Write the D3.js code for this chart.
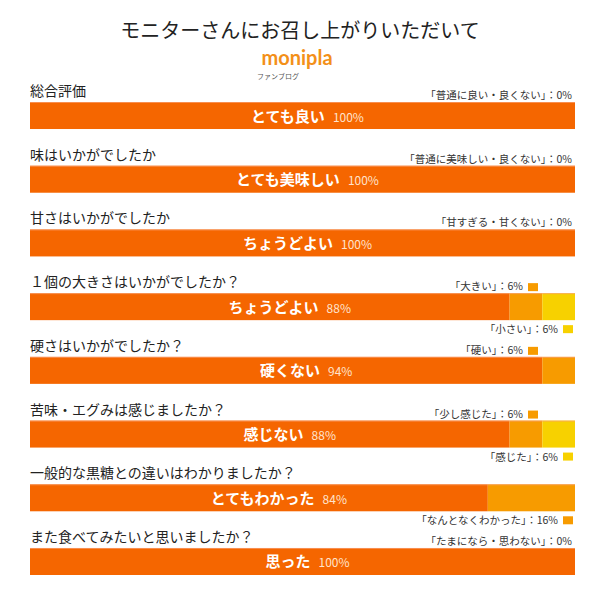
<!DOCTYPE html>
<html><head><meta charset="utf-8">
<script src="https://cdn.jsdelivr.net/npm/d3@7"></script>
<style>body{margin:0;background:#fff}svg{display:block;font-family:"Noto Sans CJK JP",sans-serif}</style>
</head><body><div id="chart"></div>
<script>
const questions = ["総合評価","味はいかがでしたか","甘さはいかがでしたか","１個の大きさはいかがでしたか？","硬さはいかがでしたか？","苦味・エグみは感じましたか？","一般的な黒糖との違いはわかりましたか？","また食べてみたいと思いましたか？"];
const mainLabels = ["とても良い","とても美味しい","ちょうどよい","ちょうどよい","硬くない","感じない","とてもわかった","思った"];
const mainValues = [100,100,100,88,94,88,84,100];
const secondValues = [0,0,0,6,6,6,16,0];
const thirdValues = [0,0,0,6,0,6,0,0];
const upperLabels = ["普通に良い・良くない","普通に美味しい・良くない","甘すぎる・甘くない","大きい","硬い","少し感じた","","たまになら・思わない"];
const upperValues = [0,0,0,6,6,6,null,0];
const upperSeries = [null,null,null,1,1,1,null,null];
const lowerLabels = ["","","","小さい","","感じた","なんとなくわかった",""];
const lowerValues = [null,null,null,6,null,6,16,null];
const lowerSeries = [null,null,null,2,null,2,1,null];
const colors = ["#F56600","#F79B00","#F7D100"];

const W=600,H=600;
const svg=d3.select("#chart").append("svg").attr("width",W).attr("height",H);

svg.append("text").attr("x",300).attr("y",38).attr("text-anchor","middle")
  .attr("font-size",20).attr("fill","#222").text("モニターさんにお召し上がりいただいて");
svg.append("text").attr("x",297).attr("y",65).attr("text-anchor","middle")
  .attr("font-family","Lato, sans-serif").attr("font-weight","bold").attr("font-size",20).attr("fill","#F39019").text("monipla");
svg.append("text").attr("x",278).attr("y",79).attr("text-anchor","middle")
  .attr("font-size",7).attr("fill","#555").text("ファンブログ");

const x=d3.scaleLinear().domain([0,100]).range([30,575]);
const y=d3.scaleBand().domain(d3.range(questions.length)).range([102,575]).paddingInner(0.576).paddingOuter(0);
const bh=y.bandwidth();

const rows=svg.selectAll("g.row").data(questions).join("g").attr("class","row")
  .attr("transform",(d,i)=>`translate(0,${y(i)})`);

rows.append("text").attr("x",30).attr("y",-6).attr("font-size",14).attr("fill","#222").text(d=>d);

rows.each(function(q,i){
  const g=d3.select(this);
  const segs=[mainValues[i],secondValues[i],thirdValues[i]];
  let acc=0;
  segs.forEach((v,k)=>{
    if(v>0){
      g.append("rect").attr("x",x(acc)).attr("y",0).attr("width",x(acc+v)-x(acc)).attr("height",bh).attr("fill",colors[k]);
    }
    acc+=v;
  });
  g.append("rect").attr("x",x(0)).attr("y",0).attr("width",x(100)-x(0)).attr("height",1).attr("fill","#F9A070").attr("opacity",0.7);
  const t=g.append("text").attr("y",bh/2+6).attr("text-anchor","middle");
  t.append("tspan").attr("font-size",15).attr("font-weight","bold").attr("fill","#fff").text(mainLabels[i]);
  t.append("tspan").attr("dx",8).attr("font-size",12).attr("fill","#FFE3CC").text(mainValues[i]+"%");
  const cx=(x(0)+x(mainValues[i]))/2 + (mainValues[i]<100?20:5);
  t.attr("x",cx);
  if(upperValues[i]!==null){
    const hasSq=upperSeries[i]!==null;
    g.append("text").attr("x",hasSq?523:572).attr("y",-3).attr("text-anchor","end").attr("font-size",10.5).attr("fill","#333")
      .text("「"+upperLabels[i]+"」：" + upperValues[i]+"%");
    if(hasSq) g.append("rect").attr("x",528).attr("y",-10).attr("width",10).attr("height",8).attr("fill",colors[upperSeries[i]]);
  }
  if(lowerValues[i]!==null){
    g.append("text").attr("x",558).attr("y",bh+13).attr("text-anchor","end").attr("font-size",10.5).attr("fill","#333")
      .text("「"+lowerLabels[i]+"」：" + lowerValues[i]+"%");
    g.append("rect").attr("x",563).attr("y",bh+5).attr("width",10).attr("height",8).attr("fill",colors[lowerSeries[i]]);
  }
});
</script></body></html>
